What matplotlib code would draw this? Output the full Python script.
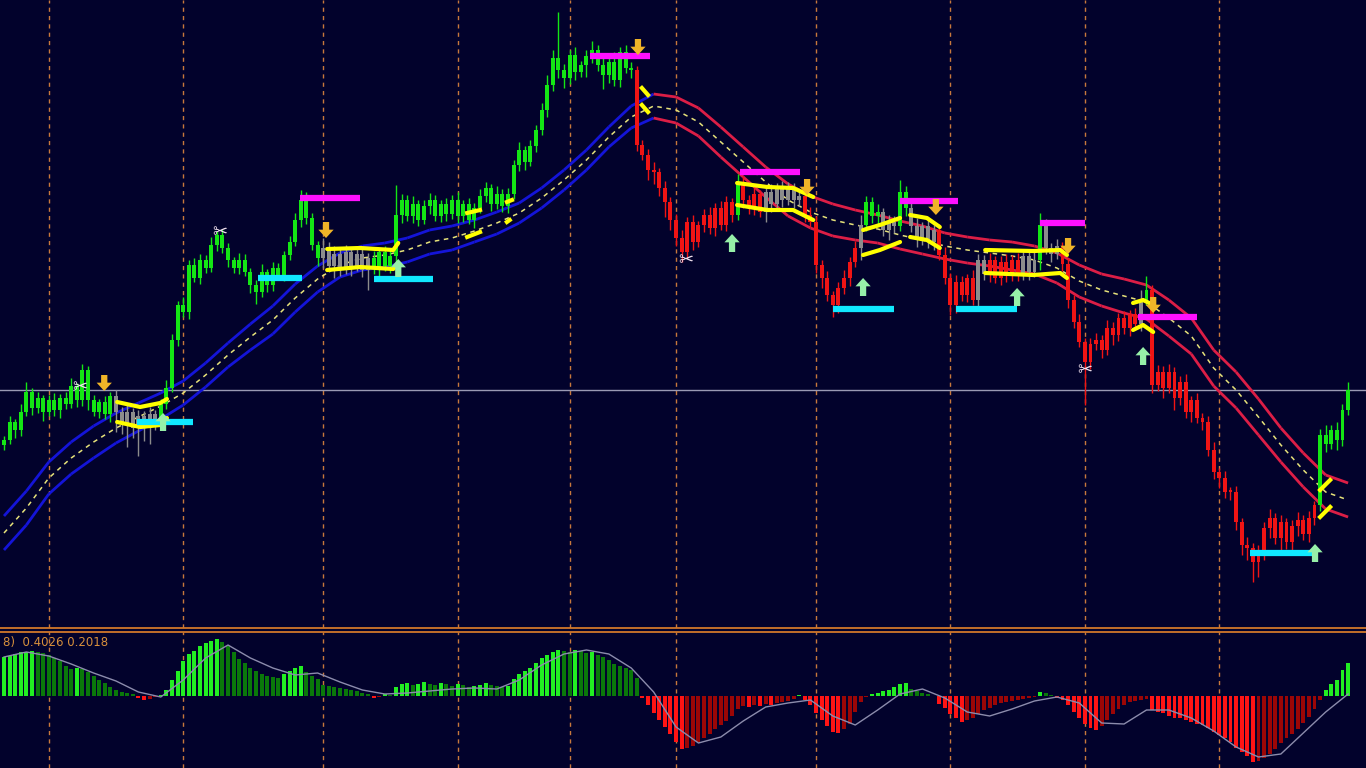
import numpy as np
import matplotlib.pyplot as plt
from matplotlib.collections import LineCollection
from matplotlib.lines import Line2D

# ---- price data (one value per bar) ----
closes = [200, 218, 210, 228, 248, 232, 242, 228, 240, 230,
          242, 236, 254, 240, 270, 240, 228, 238, 226, 244,
          228, 218, 228, 212, 224, 214, 226, 218, 236, 252,
          300, 335, 328, 375, 362, 380, 372, 395, 405, 392,
          380, 372, 380, 368, 355, 348, 368, 355, 372, 365,
          385, 398, 420, 440, 422, 395, 382, 392, 374, 386,
          372, 388, 374, 386, 370, 382, 372, 388, 374, 384,
          425, 440, 424, 436, 420, 434, 440, 424, 436, 426,
          440, 424, 436, 420, 432, 444, 452, 436, 446, 434,
          446, 475, 490, 478, 494, 510, 530, 555, 582, 570,
          562, 585, 568, 575, 584, 590, 575, 565, 578, 560,
          588, 572, 570, 495, 485, 470, 468, 452, 438, 420,
          402, 388, 418, 398, 415, 425, 412, 432, 415, 438,
          425, 458, 440, 432, 446, 428, 448, 436, 452, 440,
          452, 440, 444, 425, 418, 375, 362, 345, 335, 352,
          362, 378, 392, 415, 438, 424, 428, 410, 418, 414,
          448, 432, 414, 400, 414, 398, 410, 385, 362, 335,
          358, 345, 362, 340, 380, 366, 380, 362, 378, 364,
          380, 366, 384, 368, 380, 415, 392, 386, 394, 376,
          340, 318, 298, 278, 296, 300, 290, 312, 305, 322,
          312, 326, 316, 340, 350, 255, 268, 252, 268, 242,
          258, 228, 240, 222, 218, 190, 168, 162, 148, 148,
          118, 95, 92, 78, 88, 112, 122, 102, 118, 98,
          114, 120, 106, 122, 135, 205, 196, 210, 200, 230,
          250]
first_open = 195
wick_up = [4, 6, 3, 8, 10, 4, 6, 3, 5, 7, 4, 6, 8, 3, 6, 4, 5, 3, 6, 4,
           6, 5, 8, 4, 6, 5, 7, 4, 5, 8, 6, 4, 8, 5, 7, 6, 5, 8, 4, 6,
           5, 3, 7, 6, 4, 5, 8, 3, 6, 5, 4, 6, 7, 10, 8, 5, 4, 10, 6, 8,
           5, 7, 4, 8, 6, 5, 7, 4, 6, 8, 30, 6, 5, 8, 4, 6, 7, 5, 4, 6,
           5, 8, 4, 6, 5, 7, 6, 4, 8, 5, 6, 5, 8, 4, 6, 5, 7, 10, 8, 46,
           6, 5, 8, 4, 6, 9, 5, 7, 6, 10, 5, 7, 6, 4, 5, 6, 8, 4, 7, 5,
           6, 8, 5, 7, 4, 6, 8, 5, 7, 6, 4, 8, 6, 5, 7, 4, 6, 8, 5, 7,
           6, 5, 7, 4, 8, 6, 5, 7, 4, 6, 8, 5, 7, 10, 6, 5, 8, 4, 7, 6,
           12, 6, 5, 8, 4, 7, 5, 6, 8, 5, 7, 6, 4, 8, 6, 5, 7, 4, 6, 8,
           5, 7, 6, 4, 8, 12, 6, 5, 7, 4, 6, 5, 8, 4, 6, 7, 5, 8, 6, 5,
           7, 4, 6, 10, 14, 5, 7, 6, 8, 5, 6, 8, 4, 7, 5, 6, 8, 4, 7, 5,
           6, 4, 8, 5, 7, 6, 9, 5, 7, 4, 6, 8, 5, 7, 4, 6, 10, 5, 8, 6,
           8]
wick_dn = [5, 4, 8, 6, 4, 7, 5, 9, 4, 6, 8, 5, 4, 7, 6, 10, 4, 6, 5, 8,
           20, 12, 25, 10, 28, 15, 18, 8, 6, 5, 4, 6, 5, 7, 4, 6, 5, 4, 6, 5,
           7, 5, 6, 4, 8, 12, 5, 7, 6, 4, 6, 5, 4, 7, 6, 5, 8, 10, 6, 12,
           8, 6, 10, 5, 7, 20, 6, 8, 5, 7, 6, 8, 5, 7, 6, 4, 8, 5, 6, 7,
           5, 7, 6, 4, 8, 5, 6, 7, 5, 6, 7, 5, 6, 8, 4, 6, 5, 7, 6, 8,
           10, 6, 8, 5, 12, 7, 6, 14, 8, 6, 7, 5, 8, 6, 5, 10, 12, 8, 15, 10,
           8, 10, 6, 8, 5, 7, 6, 8, 5, 6, 7, 5, 8, 6, 7, 5, 10, 8, 6, 7,
           5, 8, 6, 7, 5, 8, 10, 6, 12, 8, 6, 8, 5, 12, 6, 7, 8, 6, 10, 7,
           5, 8, 6, 7, 5, 6, 8, 5, 6, 10, 8, 6, 7, 5, 10, 6, 8, 5, 7, 6,
           5, 7, 6, 8, 5, 10, 6, 8, 5, 7, 8, 6, 5, 43, 7, 6, 8, 5, 10, 6,
           6, 8, 5, 7, 5, 8, 6, 10, 5, 12, 7, 6, 10, 5, 8, 6, 7, 10, 6, 8,
           8, 10, 12, 20, 15, 8, 10, 6, 12, 7, 8, 10, 6, 8, 7, 6, 8, 5, 10, 6,
           5]
# trend state runs: g = up, r = down, n = flat
state_runs = [("g", 20), ("n", 8), ("g", 29), ("n", 9), ("g", 47), ("r", 18),
              ("g", 1), ("r", 4), ("n", 7), ("r", 10), ("n", 1), ("g", 3),
              ("n", 3), ("g", 2), ("n", 5), ("r", 7), ("n", 2), ("r", 6),
              ("n", 3), ("g", 1), ("n", 3), ("r", 14), ("n", 1), ("g", 1),
              ("r", 30), ("g", 6)]

separator_bars = [8, 32, 57, 81, 101, 120, 145, 169, 193, 217]
ref_level = 250

# channel, sampled every 4 bars
band_bars = list(range(0, 241, 4))
band_mid = [107, 132, 162, 182, 198, 212, 223, 234, 247, 265,
            285, 303, 320, 342, 361, 375, 382, 385, 390, 398,
            402, 409, 417, 427, 442, 460, 480, 503, 523, 534,
            530, 518, 498, 478, 458, 440, 428, 420, 415, 411,
            405, 400, 394, 390, 387, 384, 380, 372, 359, 350,
            344, 338, 322, 304, 272, 250, 223, 195, 170, 148,
            140]
band_half = [17, 17, 16, 16, 16, 15, 14, 13, 12, 12, 12, 13, 14, 14, 13, 12,
             12, 12, 12, 12, 12, 11, 11, 10, 10, 10, 10, 10, 11, 12, 13, 14,
             15, 15, 15, 16, 16, 16, 15, 14, 14, 14, 13, 13, 13, 14, 14, 15,
             16, 16, 17, 17, 18, 18, 18, 18, 18, 17, 17, 17, 17]

# consolidation zones
zone_bars = [[20.2, 24.3, 27.9, 29.1], [57.7, 63.6, 69.5, 70.4],
             [130.9, 136.3, 140.9, 144.5], [153.4, 156.4, 160.0],
             [161.8, 164.8, 167.1], [175.2, 183.8, 188.6, 189.8],
             [201.6, 203.4, 205.2]]
zone_top = [[238, 233, 237, 241], [391, 392, 390, 397], [457, 453, 452, 443],
            [410, 415, 422], [425, 422, 413], [390, 389, 390, 385], [337, 340, 335]]
zone_bot = [[218, 213, 215, 222], [370, 373, 371, 377], [435, 430, 430, 420],
            [385, 390, 398], [403, 400, 392], [367, 365, 367, 362], [310, 315, 308]]
tick_x0 = [82.7, 82.7, 89.8, 89.8, 113.9, 113.9, 235.0, 235.0]
tick_x1 = [85.0, 85.0, 90.7, 90.3, 115.0, 115.0, 236.8, 236.8]
tick_p0 = [427, 403, 438, 418, 552, 535, 150, 123]
tick_p1 = [430, 408, 440, 420, 545, 528, 160, 133]

res_x0 = [52.9, 104.6, 131.4, 160.0, 185.0, 202.5]
res_x1 = [63.6, 115.4, 142.1, 170.4, 193.0, 213.0]
res_level = [442, 584, 468, 439, 417, 323]
sup_x0 = [23.8, 45.4, 66.0, 148.0, 170.0, 222.5]
sup_x1 = [33.8, 53.2, 76.6, 159.0, 180.9, 233.8]
sup_level = [218, 362, 361, 331, 331, 87]

down_bars = [17.9, 57.5, 113.2, 143.4, 166.4, 190.0, 205.2]
down_prices = [257, 410, 593, 453, 433, 394, 335]
up_bars = [28.4, 70.4, 130.0, 153.4, 180.9, 203.4, 234.1]
up_prices = [218, 372, 397, 353, 343, 284, 87]
cut_bars = [13.6, 38.6, 121.8, 193.0]
cut_prices = [253, 408, 380, 270]

# oscillator
hist = [39, 40, 42, 44, 44, 45, 44, 43, 41, 38,
        35, 30, 27, 28, 27, 24, 20, 16, 13, 9,
        6, 4, 3, 2, -2, -4, -3, -1, 1, 6,
        16, 25, 35, 42, 45, 50, 53, 55, 57, 54,
        50, 44, 37, 33, 28, 25, 22, 20, 19, 18,
        22, 25, 28, 30, 24, 20, 17, 11, 10, 9,
        8, 7, 6, 5, 3, 2, -2, -1, 2, 1,
        9, 12, 13, 11, 12, 14, 12, 11, 13, 12,
        10, 12, 11, 9, 10, 11, 13, 11, 10, 9,
        10, 17, 22, 25, 28, 33, 38, 41, 44, 46,
        45, 44, 46, 45, 43, 44, 41, 39, 36, 32,
        30, 28, 26, 18, -2, -9, -17, -24, -31, -38,
        -46, -53, -52, -50, -46, -42, -38, -33, -29, -25,
        -20, -13, -10, -11, -9, -10, -8, -9, -7, -6,
        -5, -3, 1, -4, -9, -17, -24, -30, -36, -37,
        -33, -28, -16, -6, -1, 2, 3, 5, 6, 9,
        12, 13, 7, 5, 3, 2, 0, -8, -12, -18,
        -22, -26, -24, -22, -18, -14, -12, -9, -7, -6,
        -5, -4, -3, -2, -1, 4, 3, 1, -2, -4,
        -9, -16, -22, -28, -32, -34, -30, -24, -18, -13,
        -9, -6, -5, -4, -3, -14, -16, -17, -20, -22,
        -22, -24, -26, -28, -29, -32, -36, -39, -42, -46,
        -52, -56, -60, -66, -65, -62, -58, -53, -47, -42,
        -38, -33, -27, -21, -13, -4, 6, 12, 16, 26,
        33]
signal = [39, 44, 40, 32, 23, 15, 4, -1, 16, 38,
          51, 38, 28, 21, 23, 14, 6, 2, 3, 5,
          7, 8, 7, 16, 31, 42, 46, 42, 28, 4,
          -31, -47, -41, -25, -11, -7, -4, -20, -29, -14,
          2, 7, -2, -16, -20, -13, -5, -1, -7, -27,
          -28, -14, -14, -22, -35, -51, -61, -58, -37, -16,
          2]
osc_label = "8)  0.4026 0.2018"

BG = '#02022c'
GRID = '#c8783c'

fig = plt.figure(figsize=(13.66, 7.68), dpi=100)
fig.patch.set_facecolor(BG)
ax = fig.add_axes([0, 1 - 628 / 768, 1, 628 / 768])
ax2 = fig.add_axes([0, 0, 1, 136 / 768])
xlim = (-0.714, 243.2)
for a in (ax, ax2):
    a.axis('off')
    a.set_xlim(*xlim)
    for b in separator_bars:
        a.axvline(b, color=GRID, lw=1, ls=(0, (3, 3)), zorder=1)
ax.set_ylim(12, 640)
ax2.set_ylim(-72, 64)

ax.axhline(ref_level, color='#9a9ab4', lw=1, zorder=1)

# channel
bx = np.array(band_bars)
mid = np.array(band_mid, float)
half = np.array(band_half, float)
seg_cols = ['#1414d8' if mid[k + 1] >= mid[k] else '#dc1e46' for k in range(len(mid) - 1)]
for line in (mid + half, mid - half):
    pts = np.column_stack([bx, line]).reshape(-1, 1, 2)
    segs = np.concatenate([pts[:-1], pts[1:]], axis=1)
    ax.add_collection(LineCollection(segs, colors=seg_cols, linewidths=2, zorder=2))
ax.plot(bx, mid, color='#e6e27a', lw=1.1, ls=(0, (3, 3)), zorder=2)

# candles
state_col = {"g": '#14e614', "r": '#f01414', "n": '#8c8c8c'}
cols = []
for s, n in state_runs:
    cols += [state_col[s]] * n
c = np.array(closes, float)
o = np.concatenate([[first_open], c[:-1]])
x = np.arange(len(c))
lo_b = np.minimum(o, c)
hi_b = np.maximum(o, c)
ax.vlines(x, lo_b - np.array(wick_dn), hi_b + np.array(wick_up), colors=cols, lw=1, zorder=3)
ax.bar(x, np.maximum(hi_b - lo_b, 2), bottom=lo_b, width=0.7, color=cols, lw=0, zorder=3)

# zones and levels
for zb, zt, zl in zip(zone_bars, zone_top, zone_bot):
    ax.plot(zb, zt, color='#ffff00', lw=3, solid_capstyle='round', zorder=4)
    ax.plot(zb, zl, color='#ffff00', lw=3, solid_capstyle='round', zorder=4)
for a0, a1, p0, p1 in zip(tick_x0, tick_x1, tick_p0, tick_p1):
    ax.plot([a0, a1], [p0, p1], color='#ffff00', lw=3, zorder=4)
ax.hlines(res_level, res_x0, res_x1, color='#ff10ff', lw=4.5, zorder=4)
ax.hlines(sup_level, sup_x0, sup_x1, color='#10e8ff', lw=4.5, zorder=4)

# arrows and marks
astyle = 'simple,head_length=0.6,head_width=1.1,tail_width=0.45'
for b, p in zip(down_bars, down_prices):
    ax.annotate('', xy=(b, p - 8), xytext=(b, p + 8),
                arrowprops=dict(arrowstyle=astyle, color='#f0b428', lw=0,
                                mutation_scale=10, shrinkA=0, shrinkB=0), zorder=5)
for b, p in zip(up_bars, up_prices):
    ax.annotate('', xy=(b, p + 9), xytext=(b, p - 9),
                arrowprops=dict(arrowstyle=astyle, color='#96f0a8', lw=0,
                                mutation_scale=10, shrinkA=0, shrinkB=0), zorder=5)
for b, p in zip(cut_bars, cut_prices):
    ax.text(b, p, '\u2702', color='#f4e4f0', fontsize=13, ha='center', va='center',
            family=['DejaVu Sans'], zorder=5)

# oscillator pane
h = np.array(hist, float)
prev = np.concatenate([[h[0]], h[:-1]])
hcols = []
for v, pv in zip(h, prev):
    if v >= 0:
        hcols.append('#22ee22' if v >= pv else '#0a780a')
    else:
        hcols.append('#ff1414' if v <= pv else '#9c0606')
ax2.bar(x, h, width=0.7, color=hcols, lw=0, zorder=2)
ax2.plot(bx, signal, color='#8c8cac', lw=1, zorder=3)
ax2.text(0.002, 0.92, osc_label, transform=ax2.transAxes, color='#d8903c',
         fontsize=8.5, ha='left', va='center')

# pane separator
for yy in (628, 632):
    fig.add_artist(Line2D([0, 1], [1 - yy / 768] * 2, color='#d2782a', lw=1.3))

fig.savefig('out.png', dpi=100, facecolor=BG)
